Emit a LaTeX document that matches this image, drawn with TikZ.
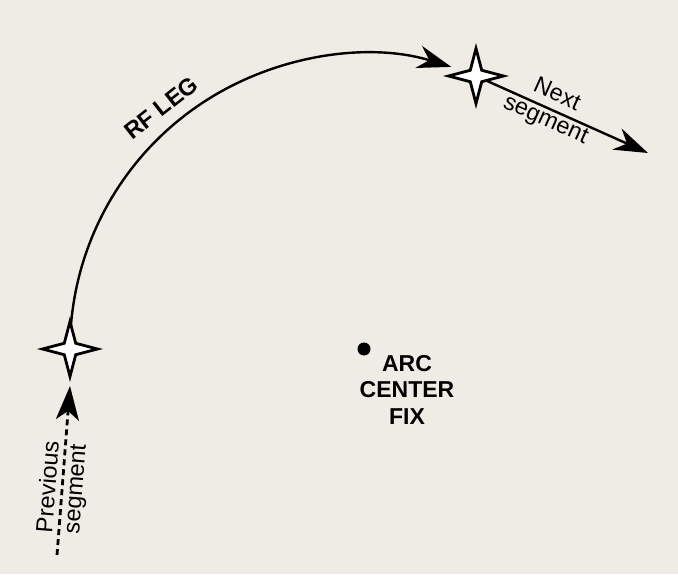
\documentclass[tikz,border=0pt]{standalone}
\usepackage{fontspec}
\setmainfont{Liberation Sans}
\usetikzlibrary{arrows.meta,shapes.geometric}
\definecolor{bgc}{RGB}{239,236,230}
\pgfdeclarelayer{back}
\pgfsetlayers{back,main}
\begin{document}
\begin{tikzpicture}[x=1pt,y=1pt,
  fixstar/.style={star, star points=4, star point ratio=3.4, minimum size=55pt, inner sep=0pt, draw=black, fill=white, line width=2.8pt},
  legline/.style={line width=2.4pt, -{Stealth[length=34pt,width=23pt,inset=11pt]}},
  lbl/.style={font=\fontsize{23.5}{27}\selectfont, align=center, inner sep=0pt},
  blbl/.style={font=\bfseries\fontsize{23}{26.5}\selectfont, align=center, inner sep=0pt}]
\useasboundingbox (0,0) rectangle (678,574);
\node[fixstar] (s1) at (70,225) {};
\node[fixstar] (s2) at (476,498) {};
\node[circle, fill=black, inner sep=0pt, minimum size=13pt] (c) at (364,225) {};
\coordinate (p0) at (57,19);
\coordinate (p1) at (70,188);
\coordinate (n1) at (648,421);
\node[blbl] (acf) at (407,184.5) {ARC\\CENTER\\FIX};
\node[blbl, font=\bfseries\fontsize{23.5}{26}\selectfont, rotate=38] (rf) at (161,466) {RF LEG};
\node[lbl, rotate=-24.1] (ns) at (551,466) {Next\\segment};
\node[lbl, rotate=85.6] (ps) at (63,86) {Previous\\segment};
\begin{pgfonlayer}{back}
\fill[bgc] (0,0) rectangle (678,574);
\draw[legline] (s1.center) arc[start angle=180,end angle=73,radius=295];
\draw[legline] (s2.center) -- (n1);
\draw[line width=2.8pt, dash pattern=on 6pt off 4pt, -{Stealth[length=34pt,width=23pt,inset=9pt]}] (p0) -- (p1);
\end{pgfonlayer}
\end{tikzpicture}
\end{document}
